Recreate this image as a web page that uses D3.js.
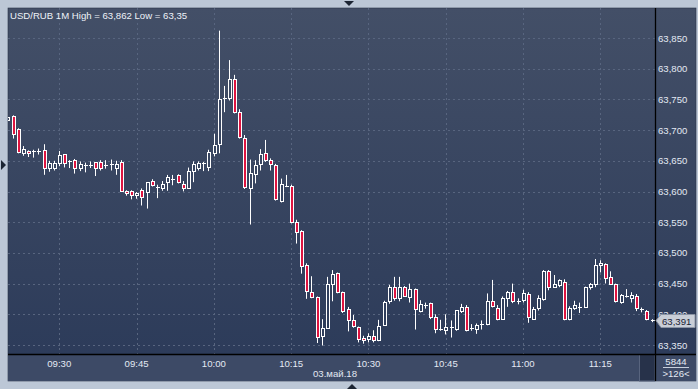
<!DOCTYPE html>
<html><head><meta charset="utf-8">
<script src="https://cdn.jsdelivr.net/npm/d3@7"></script>
<style>body{margin:0;background:#bcc7d6}svg{display:block}</style>
</head><body><svg id="c" width="698" height="389"></svg>
<script>
// ---- data ----
const startTime = "2018-05-03 09:20";
const endTime   = "2018-05-03 11:25";
const open = [63.716,63.723,63.701,63.663,63.666,63.665,63.666,63.668,63.639,63.639,
63.646,63.661,63.649,63.651,63.639,63.643,63.643,63.648,63.648,63.643,63.644,63.638,63.648,63.601,63.601,63.595,63.602,63.599,63.617,63.607,
63.606,63.615,63.620,63.627,63.613,63.606,63.634,63.639,63.646,63.640,63.662,63.677,63.753,63.752,63.784,63.729,63.687,63.605,63.628,63.644,
63.662,63.652,63.643,63.585,63.609,63.609,63.551,63.536,63.481,63.436,63.428,63.364,63.377,63.450,63.467,63.436,63.408,63.390,63.379,63.361,
63.359,63.365,63.358,63.383,63.421,63.445,63.426,63.445,63.428,63.441,63.406,63.415,63.418,63.396,63.376,63.374,63.380,63.376,63.405,63.412,
63.377,63.376,63.384,63.384,63.422,63.411,63.393,63.427,63.436,63.422,63.423,63.433,63.393,63.410,63.425,63.471,63.444,63.447,63.453,63.392,
63.411,63.412,63.412,63.444,63.449,63.480,63.482,63.460,63.449,63.420,63.429,63.426,63.429,63.408,63.405,63.391];
const high = [63.723,63.724,63.703,63.674,63.667,63.668,63.670,63.677,63.650,63.650,
63.666,63.661,63.651,63.653,63.649,63.647,63.649,63.648,63.651,63.651,63.652,63.650,63.651,63.602,63.602,63.599,63.605,63.615,63.620,63.611,
63.617,63.627,63.627,63.628,63.617,63.639,63.649,63.649,63.648,63.668,63.694,63.862,63.772,63.814,63.790,63.734,63.692,63.652,63.651,63.669,
63.684,63.654,63.645,63.621,63.627,63.611,63.554,63.537,63.483,63.462,63.429,63.392,63.461,63.472,63.468,63.437,63.412,63.399,63.380,63.365,
63.369,63.374,63.391,63.422,63.448,63.461,63.461,63.446,63.450,63.442,63.423,63.419,63.419,63.400,63.391,63.400,63.390,63.407,63.417,63.415,
63.384,63.385,63.390,63.434,63.456,63.415,63.429,63.438,63.450,63.426,63.440,63.436,63.412,63.431,63.472,63.472,63.464,63.457,63.457,63.413,
63.422,63.419,63.445,63.451,63.490,63.488,63.483,63.470,63.450,63.433,63.441,63.436,63.433,63.411,63.407,63.392];
const low = [63.715,63.687,63.663,63.659,63.657,63.656,63.661,63.628,63.633,63.635,
63.642,63.640,63.639,63.630,63.634,63.632,63.639,63.626,63.635,63.638,63.635,63.628,63.600,63.594,63.588,63.589,63.578,63.573,63.609,63.590,
63.602,63.602,63.611,63.614,63.601,63.606,63.616,63.635,63.634,63.634,63.658,63.663,63.730,63.749,63.728,63.687,63.605,63.547,63.614,63.635,
63.649,63.635,63.586,63.583,63.608,63.549,63.516,63.467,63.426,63.427,63.354,63.350,63.377,63.422,63.435,63.403,63.373,63.379,63.355,63.353,
63.355,63.355,63.357,63.383,63.418,63.423,63.422,63.429,63.420,63.376,63.404,63.410,63.393,63.370,63.374,63.368,63.363,63.374,63.403,63.373,
63.374,63.369,63.376,63.383,63.412,63.391,63.392,63.413,63.419,63.417,63.420,63.387,63.392,63.407,63.423,63.440,63.444,63.445,63.391,63.391,
63.408,63.403,63.411,63.441,63.445,63.469,63.451,63.449,63.420,63.418,63.428,63.420,63.406,63.404,63.391,63.388];
const close = [63.722,63.693,63.665,63.669,63.662,63.666,63.666,63.638,63.647,63.647,
63.659,63.646,63.649,63.638,63.645,63.643,63.643,63.639,63.639,63.643,63.644,63.645,63.601,63.597,63.595,63.598,63.591,63.615,63.611,63.607,
63.612,63.623,63.620,63.615,63.606,63.633,63.644,63.646,63.646,63.664,63.676,63.751,63.753,63.783,63.730,63.688,63.607,63.630,63.643,63.661,
63.651,63.644,63.587,63.612,63.609,63.551,63.534,63.479,63.438,63.428,63.363,63.377,63.449,63.465,63.437,63.406,63.390,63.381,63.359,63.358,
63.364,63.358,63.381,63.420,63.444,63.426,63.445,63.430,63.441,63.408,63.416,63.415,63.395,63.376,63.376,63.379,63.377,63.407,63.412,63.374,
63.377,63.383,63.384,63.422,63.413,63.392,63.426,63.436,63.422,63.422,63.434,63.395,63.409,63.426,63.470,63.444,63.449,63.456,63.392,63.410,
63.415,63.412,63.444,63.449,63.481,63.484,63.459,63.450,63.422,63.431,63.429,63.431,63.410,63.408,63.392,63.391];
const yTickValues = [63.35,63.40,63.45,63.50,63.55,63.60,63.65,63.70,63.75,63.80,63.85];
const xTickLabels = ["09:30","09:45","10:00","10:15","10:30","10:45","11:00","11:15"];
const titleText = "USD/RUB 1M High = 63,862 Low = 63,35";
const dateLabel = "03.май.18";
const lastPrice = 63.391;
const infoTop = "5844";
const infoBottom = ">126<";

// ---- drawing ----
const svg = d3.select("#c");
const parse = d3.timeParse("%Y-%m-%d %H:%M");
const day = "2018-05-03 ";
const times = d3.timeMinute.range(parse(startTime), d3.timeMinute.offset(parse(endTime), 1));
const candles = times.map((t, i) => ({t, o: open[i], h: high[i], l: low[i], c: close[i]}));

const L = 8, T = 8, PR = 655, PB = 354.5, R = 696, B = 381;
const x = d3.scaleTime().domain([parse(day + "09:30"), parse(day + "11:15")]).range([59.3, 600.3]);
const y = d3.scaleLinear().domain([63.35, 63.85]).range([345, 38]);

const defs = svg.append("defs");
const g = defs.append("linearGradient").attr("id", "bg").attr("gradientUnits", "userSpaceOnUse")
  .attr("x1", 0).attr("y1", T).attr("x2", 0).attr("y2", B);
g.append("stop").attr("offset", 0).attr("stop-color", "#434f67");
g.append("stop").attr("offset", 1).attr("stop-color", "#2b3a59");
defs.append("clipPath").attr("id", "clip").append("rect")
  .attr("x", L).attr("y", T).attr("width", PR - L).attr("height", PB - T);

// frame triangles
svg.append("path").attr("d", "M344,1 L354,1 L349,6 Z").attr("fill", "#1c2533");
svg.append("path").attr("d", "M1,160 L6,165 L1,170 Z").attr("fill", "#1c2533");
svg.append("path").attr("d", "M347,389 L357,389 L352,384 Z").attr("fill", "#1c2533");

svg.append("rect").attr("x", L).attr("y", T).attr("width", R - L).attr("height", B - T)
  .attr("fill", "url(#bg)").attr("stroke", "#2a3346").attr("stroke-width", 0.6);
svg.append("rect").attr("x", L).attr("y", PB).attr("width", R - L).attr("height", B - PB)
  .attr("fill", "#3d4a66");
svg.append("rect").attr("x", 639.5).attr("y", PB).attr("width", PR - 639.5).attr("height", B - PB)
  .attr("fill", "#27324a").attr("stroke", "#58647e").attr("stroke-width", 1);

// grid
const grid = svg.append("g").attr("stroke", "#58657f").attr("stroke-dasharray", "2,3").attr("stroke-width", 1);
grid.selectAll(".h").data(yTickValues).join("line")
  .attr("x1", L).attr("x2", PR).attr("y1", d => Math.round(y(d)) + 0.5).attr("y2", d => Math.round(y(d)) + 0.5);
grid.selectAll(".v").data(xTickLabels).join("line")
  .attr("y1", T).attr("y2", PB).attr("x1", d => Math.round(x(parse(day + d))) + 0.5).attr("x2", d => Math.round(x(parse(day + d))) + 0.5);

// candles
const cg = svg.append("g").attr("clip-path", "url(#clip)");
candles.forEach(d => {
  const cx = Math.round(x(d.t) + 0.7);
  cg.append("line").attr("x1", cx - 0.5).attr("x2", cx - 0.5)
    .attr("y1", y(d.h)).attr("y2", y(d.l) + 0.5).attr("stroke", "#ffffff").attr("stroke-width", 1);
  const top = Math.round(y(Math.max(d.o, d.c))), bot = Math.round(y(Math.min(d.o, d.c)));
  if (bot - top < 2) {
    cg.append("line").attr("x1", cx - 2).attr("x2", cx + 2)
      .attr("y1", top + 0.5).attr("y2", top + 0.5).attr("stroke", "#ffffff");
  } else {
    cg.append("rect").attr("x", cx - 1.5).attr("y", top + 0.5).attr("width", 3).attr("height", bot - top)
      .attr("fill", d.c < d.o ? "#de1440" : "url(#bg)").attr("stroke", "#ffffff").attr("stroke-width", 1);
  }
});

// axes lines
svg.append("line").attr("x1", PR + 0.5).attr("x2", PR + 0.5).attr("y1", T).attr("y2", B).attr("stroke", "#000").attr("stroke-width", 1.3);
svg.append("line").attr("x1", L).attr("x2", R).attr("y1", PB).attr("y2", PB).attr("stroke", "#000").attr("stroke-width", 1.3);

const font = "'Liberation Sans', Arial, sans-serif";
const fmt = v => d3.format(".3f")(v).replace(".", ",");
// y labels
svg.append("g").selectAll("text").data(yTickValues).join("text")
  .attr("x", 658).attr("y", d => y(d) + 3.5).text(fmt)
  .attr("fill", "#e3e9f3").attr("font-family", font).attr("font-size", "9.6px");
// x labels
svg.append("g").selectAll("text").data(xTickLabels).join("text")
  .attr("x", d => x(parse(day + d))).attr("y", 366.5).attr("text-anchor", "middle").text(d => d)
  .attr("fill", "#e3e9f3").attr("font-family", font).attr("font-size", "9.6px");
svg.append("text").attr("x", 313).attr("y", 377).text(dateLabel)
  .attr("fill", "#e3e9f3").attr("font-family", font).attr("font-size", "9.6px");
// title
svg.append("text").attr("x", 10).attr("y", 18.5).text(titleText)
  .attr("fill", "#eef2f8").attr("font-family", font).attr("font-size", "9.6px");
// info box
svg.append("text").attr("x", 676).attr("y", 365).attr("text-anchor", "middle").text(infoTop)
  .attr("fill", "#e3e9f3").attr("font-family", font).attr("font-size", "9.6px");
svg.append("line").attr("x1", 663).attr("x2", 689).attr("y1", 367.5).attr("y2", 367.5).attr("stroke", "#c8d0dd");
svg.append("text").attr("x", 676).attr("y", 377).attr("text-anchor", "middle").text(infoBottom)
  .attr("fill", "#e3e9f3").attr("font-family", font).attr("font-size", "9.6px");
// last price label
const ly = Math.round(y(lastPrice)) + 0.5;
svg.append("path").attr("d", `M${PR + 1},${ly} L${PR + 6},${ly - 6} L695,${ly - 6} L695,${ly + 7} L${PR + 6},${ly + 7} Z`)
  .attr("fill", "#c9ced7").attr("stroke", "#8b94a4");
svg.append("text").attr("x", 662).attr("y", ly + 4).text(fmt(lastPrice))
  .attr("fill", "#1a2233").attr("font-family", font).attr("font-size", "9.6px");
</script></body></html>
